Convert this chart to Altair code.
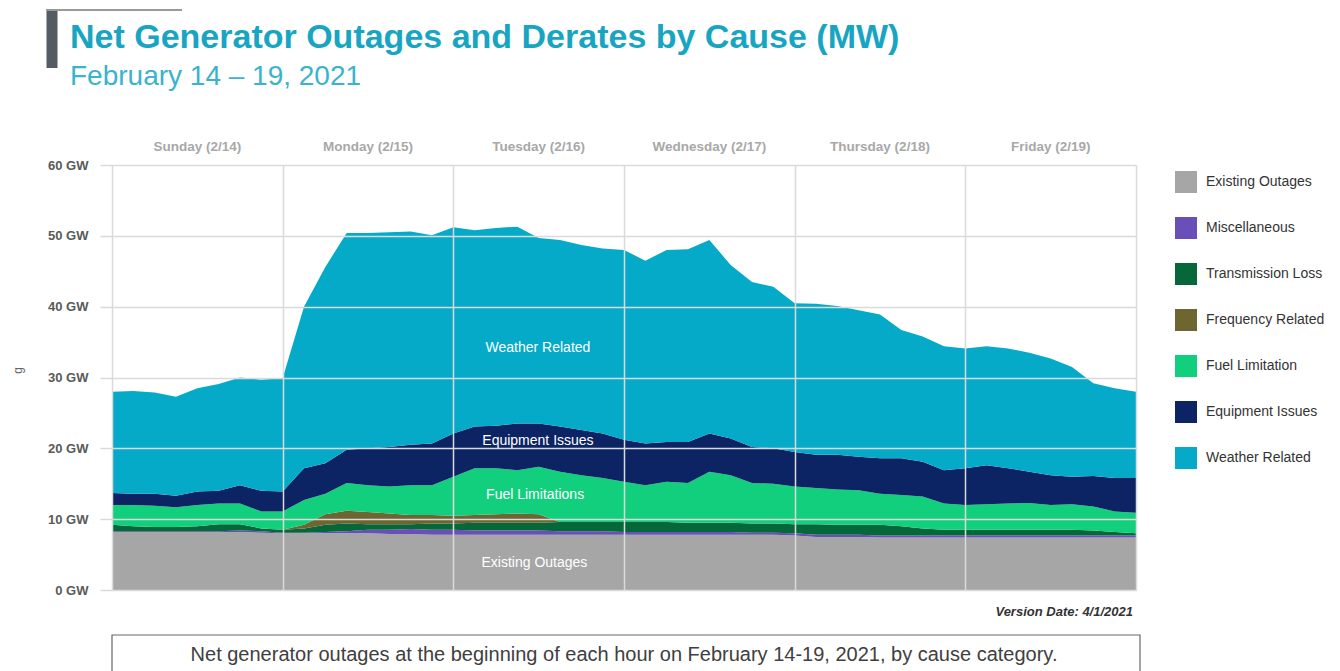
import altair as alt
import pandas as pd

# ---- data (GW), read at 3-hour steps from Sun 2/14 00:00 to Sat 2/20 00:00 ----
hours = list(range(0, 145, 3))

existing = [8.2, 8.2, 8.2, 8.2, 8.2, 8.2, 8.2, 8.1, 8.0,
            8.0, 8.0, 8.0, 8.0, 7.9, 7.9, 7.8, 7.8, 7.8, 7.8, 7.8,
            7.8, 7.8, 7.8, 7.8, 7.8, 7.8, 7.8, 7.8, 7.8, 7.8,
            7.8, 7.8, 7.7, 7.5, 7.5, 7.5, 7.4, 7.4, 7.4, 7.4,
            7.4, 7.4, 7.4, 7.4, 7.4, 7.4, 7.4, 7.4, 7.4]
misc = [0.1, 0.1, 0.1, 0.1, 0.1, 0.1, 0.2, 0.2, 0.1,
        0.1, 0.2, 0.3, 0.5, 0.6, 0.7, 0.7, 0.7, 0.6, 0.6, 0.6,
        0.6, 0.5, 0.5, 0.5, 0.4, 0.4, 0.4, 0.4, 0.4, 0.4,
        0.3, 0.3, 0.3, 0.3, 0.3, 0.3, 0.3, 0.3, 0.3, 0.3,
        0.3, 0.3, 0.3, 0.3, 0.3, 0.3, 0.3, 0.3, 0.3]
transmission = [0.9, 0.7, 0.6, 0.6, 0.7, 1.0, 0.9, 0.4, 0.4,
                0.6, 1.0, 1.1, 0.8, 0.8, 0.7, 0.9, 0.9, 1.1, 1.1, 1.1,
                1.1, 1.3, 1.3, 1.3, 1.4, 1.4, 1.4, 1.3, 1.3, 1.3,
                1.3, 1.3, 1.3, 1.5, 1.4, 1.4, 1.5, 1.3, 1.0, 0.8,
                0.8, 0.8, 0.8, 0.8, 0.8, 0.8, 0.7, 0.5, 0.3]
frequency = [0.0, 0.0, 0.0, 0.0, 0.0, 0.0, 0.0, 0.0, 0.0,
             0.5, 1.5, 1.8, 1.7, 1.5, 1.3, 1.2, 1.1, 1.1, 1.2, 1.3,
             1.2, 0.0, 0.0, 0.0, 0.0, 0.0, 0.0, 0.0, 0.0, 0.0,
             0.0, 0.0, 0.0, 0.0, 0.0, 0.0, 0.0, 0.0, 0.0, 0.0,
             0.0, 0.0, 0.0, 0.0, 0.0, 0.0, 0.0, 0.0, 0.0]
fuel = [2.8, 3.0, 3.0, 2.8, 3.0, 2.9, 2.9, 2.4, 2.6,
        3.5, 2.9, 3.9, 3.8, 3.8, 4.2, 4.2, 5.5, 6.6, 6.5, 6.1,
        6.7, 7.1, 6.6, 6.2, 5.7, 5.2, 5.7, 5.6, 7.2, 6.7,
        5.7, 5.6, 5.3, 5.1, 5.0, 4.9, 4.4, 4.4, 4.5, 3.7,
        3.5, 3.6, 3.7, 3.8, 3.5, 3.6, 3.4, 2.9, 2.9]
equipment = [1.7, 1.6, 1.7, 1.6, 1.9, 1.8, 2.6, 2.9, 2.8,
             4.5, 4.3, 4.7, 5.2, 5.6, 5.7, 5.9, 6.1, 5.9, 6.0, 6.6,
             6.1, 6.4, 6.4, 6.3, 5.9, 5.9, 5.6, 5.8, 5.4, 5.2,
             5.1, 5.0, 4.9, 4.7, 4.9, 4.7, 5.0, 5.2, 4.9, 4.7,
             5.2, 5.5, 5.0, 4.4, 4.2, 3.9, 4.3, 4.7, 4.9]
weather = [14.3, 14.5, 14.3, 14.0, 14.6, 15.1, 15.2, 15.7, 16.0,
           22.8, 27.7, 30.6, 30.4, 30.3, 30.1, 29.4, 29.1, 27.7, 27.9, 27.8,
           26.2, 26.3, 26.1, 26.1, 26.8, 25.8, 27.1, 27.2, 27.3, 24.5,
           23.3, 22.8, 21.0, 21.3, 21.0, 20.7, 20.3, 18.1, 17.7, 17.5,
           16.9, 16.8, 16.9, 16.8, 16.5, 15.5, 13.1, 12.7, 12.2]

causes = ["Existing Outages", "Miscellaneous", "Transmission Loss",
          "Frequency Related", "Fuel Limitation", "Equipment Issues", "Weather Related"]
colors = ["#a6a6a6", "#6a4fb8", "#06683a", "#6e6631", "#12cf7d", "#0c2463", "#04aac8"]
series = [existing, misc, transmission, frequency, fuel, equipment, weather]

day_labels = ["Sunday (2/14)", "Monday (2/15)", "Tuesday (2/16)",
              "Wednesday (2/17)", "Thursday (2/18)", "Friday (2/19)"]
day_mid_hours = [12, 36, 60, 84, 108, 132]
day_bounds = [0, 24, 48, 72, 96, 120, 144]
y_ticks = [0, 10, 20, 30, 40, 50, 60]

ann_text = ["Weather Related", "Equipment Issues", "Fuel Limitations", "Existing Outages"]
ann_hour = [59.9, 59.9, 59.5, 59.4]
ann_gw = [34.2, 21.0, 13.4, 3.8]

TITLE = "Net Generator Outages and Derates by Cause (MW)"
SUBTITLE = "February 14 \u2013 19, 2021"
CAPTION = "Net generator outages at the beginning of each hour on February 14-19, 2021, by cause category."
VERSION = "Version Date: 4/1/2021"

FONT = "Liberation Sans"
GRID = "#dadada"

rows = []
for k, (c, vals) in enumerate(zip(causes, series)):
    for h, v in zip(hours, vals):
        rows.append({"hour": h, "cause": c, "gw": v, "order": k})
df = pd.DataFrame(rows)

areas = alt.Chart(df).mark_area(interpolate="linear", opacity=1).encode(
    x=alt.X("hour:Q",
            scale=alt.Scale(domain=[0, 144], nice=False, zero=False),
            axis=alt.Axis(values=day_bounds, grid=True, gridColor=GRID, gridWidth=1.5,
                          labels=False, ticks=False, domain=False, title=None, zindex=1)),
    y=alt.Y("gw:Q", stack="zero",
            scale=alt.Scale(domain=[0, 60], nice=False),
            axis=alt.Axis(values=y_ticks, labelExpr="datum.value + ' GW'",
                          grid=True, gridColor=GRID, gridWidth=1.5,
                          tickSize=12, tickColor=GRID, tickWidth=1.5, domain=False,
                          labelFont=FONT, labelFontSize=13, labelFontWeight="bold",
                          labelColor="#5a5a5a", labelPadding=12,
                          title="g", titleFont=FONT, titleFontSize=12,
                          titleFontWeight="normal", titleColor="#666666",
                          titleX=-88, titleY=205, zindex=1)),
    color=alt.Color("cause:N",
                    scale=alt.Scale(domain=causes, range=colors),
                    legend=alt.Legend(title=None, orient="none", legendX=1063, legendY=6,
                                      symbolType="square", symbolSize=484,
                                      symbolStrokeWidth=0, symbolOpacity=1,
                                      rowPadding=24, labelFont=FONT, labelFontSize=14,
                                      labelColor="#333333", labelOffset=9, labelLimit=200)),
    order=alt.Order("order:Q", sort="ascending"),
)

days_df = pd.DataFrame({"hour": day_mid_hours, "day": day_labels})
days = alt.Chart(days_df).mark_text(font=FONT, fontSize=13.5, fontWeight="bold",
                                    color="#a8a8a8", baseline="middle").encode(
    x="hour:Q", y=alt.value(-18), text="day:N")

ann_df = pd.DataFrame({"label": ann_text, "hour": ann_hour, "gw": ann_gw})
ann = alt.Chart(ann_df).mark_text(font=FONT, fontSize=14, color="white",
                                  baseline="middle").encode(
    x="hour:Q", y="gw:Q", text="label:N")

one = pd.DataFrame({"a": [0]})
bar = alt.Chart(one).mark_rule(color="#555c63", strokeWidth=11).encode(
    x=alt.value(-60), y=alt.value(-155), y2=alt.value(-97))
topline = alt.Chart(one).mark_rule(color="#9a9a9a", strokeWidth=2).encode(
    x=alt.value(-66), x2=alt.value(70), y=alt.value(-155))
version = alt.Chart(one).mark_text(font=FONT, fontSize=13, fontWeight="bold",
                                   fontStyle="italic", color="#333333", align="right",
                                   baseline="middle").encode(
    x=alt.value(1021), y=alt.value(447), text=alt.value(VERSION))
box = alt.Chart(one).mark_rect(fill="white", stroke="#666666", strokeWidth=1.2).encode(
    x=alt.value(0), x2=alt.value(1028), y=alt.value(470), y2=alt.value(560))
caption = alt.Chart(one).mark_text(font=FONT, fontSize=20, color="#404040", align="center",
                                   baseline="alphabetic").encode(
    x=alt.value(512), y=alt.value(496), text=alt.value(CAPTION))

chart = alt.layer(areas, ann, days, bar, topline, version, box, caption).properties(
    width=1024, height=425,
    autosize=alt.AutoSizeParams(type="none"),
    padding={"left": 104, "top": 157, "right": 196, "bottom": 81},
    title=alt.TitleParams(text=TITLE, subtitle=SUBTITLE, anchor="start", frame="group",
                          dx=-42, offset=0, dy=86, font=FONT, fontSize=34, fontWeight="bold",
                          color="#18a5c2", subtitleFont=FONT, subtitleFontSize=28,
                          subtitleColor="#3ab3cc", subtitleFontWeight="normal",
                          subtitlePadding=8),
).configure_view(stroke=None).configure(background="white")

chart.save("out.html", embed_options={"renderer": "svg", "actions": False})
